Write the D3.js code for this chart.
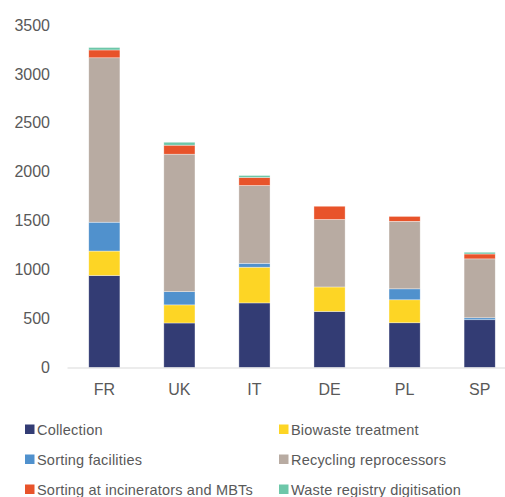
<!DOCTYPE html>
<html>
<head>
<meta charset="utf-8">
<script src="https://cdn.jsdelivr.net/npm/d3@7"></script>
<style>
  html, body { margin: 0; padding: 0; background: #fff; }
  svg { display: block; }
  text { font-family: "Liberation Sans", Arial, sans-serif; fill: #595959; }
</style>
</head>
<body>
<svg id="chart" width="505" height="497"></svg>
<script>
// Investment needs by country, stacked by stage of the waste chain
const countries = ["FR", "UK", "IT", "DE", "PL", "SP"];
const collection   = [940, 455, 660, 573, 457, 488];
const biowaste     = [250, 185, 365, 250, 235, 0];
const sorting      = [295, 135, 40, 0, 112, 20];
const recycling    = [1680, 1405, 795, 690, 690, 602];
const incinerators = [80, 92, 82, 135, 50, 50];
const registry     = [25, 30, 20, 0, 0, 18];
const seriesNames = ["Collection", "Biowaste treatment", "Sorting facilities",
  "Recycling reprocessors", "Sorting at incinerators and MBTs", "Waste registry digitisation"];
const yTicks = [0, 500, 1000, 1500, 2000, 2500, 3000, 3500];

const colors = ["#333c74", "#fdd525", "#5091cd", "#b8aba2", "#e8532a", "#6dc7a9"];
const seriesValues = [collection, biowaste, sorting, recycling, incinerators, registry];

const rows = countries.map((c, i) => {
  const r = { country: c };
  seriesNames.forEach((s, k) => { r[s] = seriesValues[k][i]; });
  return r;
});
const stacked = d3.stack().keys(seriesNames)(rows);

const svg = d3.select("#chart");
const x = d3.scaleBand().domain(countries).range([67, 517]).paddingInner(0.585).paddingOuter(0.29);
const y = d3.scaleLinear().domain([0, 3500]).range([367.5, 25]);

// y tick labels
const yAxis = svg.append("g").attr("transform", "translate(50,0)")
  .call(d3.axisLeft(y).tickValues(yTicks).tickFormat(d3.format("d")).tickSize(0).tickPadding(0));
yAxis.select(".domain").remove();
yAxis.selectAll("text").attr("font-size", 16).attr("fill", "#595959")
  .attr("font-family", "Liberation Sans, Arial, sans-serif");

// bars
svg.append("g").selectAll("g").data(stacked).join("g")
  .attr("fill", (d, i) => colors[i])
  .selectAll("rect").data(d => d).join("rect")
  .attr("x", d => x(d.data.country))
  .attr("width", x.bandwidth())
  .attr("y", d => y(d[1]))
  .attr("height", d => Math.max(0, y(d[0]) - y(d[1])))
  .attr("stroke", "#fff").attr("stroke-opacity", 0.6).attr("stroke-width", 0.6);

// category axis
const xAxis = svg.append("g").attr("transform", "translate(0,367.5)")
  .call(d3.axisBottom(x).tickSize(0).tickPadding(16));
xAxis.select(".domain").attr("stroke", "#d9d9d9").attr("stroke-width", 1.2);
xAxis.selectAll("text").attr("font-size", 16).attr("fill", "#595959")
  .attr("font-family", "Liberation Sans, Arial, sans-serif");

// legend
const legend = svg.append("g");
const items = legend.selectAll("g").data(seriesNames).join("g")
  .attr("transform", (d, i) => `translate(${i % 2 === 0 ? 25 : 279},${429.5 + Math.floor(i / 2) * 30})`);
items.append("rect").attr("x", 0).attr("y", -5).attr("width", 9.5).attr("height", 9.5)
  .attr("fill", (d, i) => colors[i]);
items.append("text").attr("x", 12).attr("y", 0).attr("dy", "0.35em")
  .attr("font-size", 14.5).attr("letter-spacing", 0.2).text(d => d);
</script>
</body>
</html>
